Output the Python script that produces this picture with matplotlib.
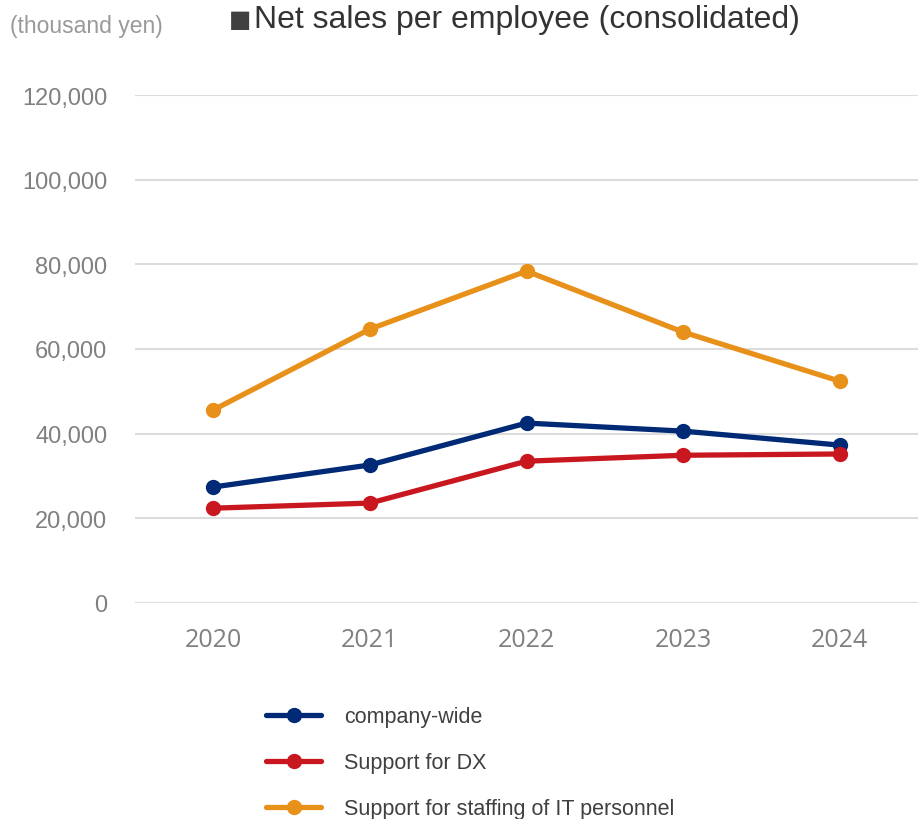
import numpy as np
import matplotlib
matplotlib.use("Agg")
import matplotlib.pyplot as plt

years = ["2020", "2021", "2022", "2023", "2024"]
company_wide = [27400, 32600, 42500, 40600, 37300]
support_dx = [22400, 23600, 33500, 34900, 35200]
support_it = [45600, 64700, 78400, 64000, 52400]

labels = ["company-wide", "Support for DX", "Support for staffing of IT personnel"]
colors = ["#002a75", "#c9171f", "#e8911a"]

plt.rcParams['font.family'] = ['Liberation Sans', 'DejaVu Sans']

fig = plt.figure(figsize=(9.18, 8.2), dpi=100)
ax = fig.add_axes([135 / 918, (820 - 604) / 820, 783 / 918, 508 / 820])

x = np.arange(len(years))
for vals, lab, col in zip([company_wide, support_dx, support_it], labels, colors):
    ax.plot(x, vals, color=col, lw=3.8, marker='o', ms=10, label=lab,
            solid_capstyle='round')

ax.set_xlim(-0.5, 4.5)
ax.set_ylim(0, 120000)
ax.set_yticks(np.arange(0, 120001, 20000))
ax.set_yticklabels([f"{v:,}" for v in range(0, 120001, 20000)],
                   fontsize=17, color="#808080")
ax.set_xticks(x)
ax.set_xticklabels(years, fontsize=18, color="#808080", family="Open Sans")
ax.tick_params(axis='both', length=0)
ax.tick_params(axis='y', pad=20)
ax.tick_params(axis='x', pad=17)
ax.grid(axis='y', color="#dcdcdc", lw=1.5)
ax.set_axisbelow(True)
for s in ax.spines.values():
    s.set_visible(False)

fig.text(10 / 918, 1 - 26 / 820, "(thousand yen)", fontsize=16.5, color="#999999",
         va='center', ha='left')
fig.text(229 / 918, 1 - 20 / 820, "■", fontsize=17, color="#404040",
         va='center', ha='left', family='DejaVu Sans')
fig.text(254 / 918, 1 - 20 / 820, "Net sales per employee (consolidated)",
         fontsize=23, color="#333333", va='center', ha='left')

fig.legend(loc='upper left', bbox_to_anchor=(247 / 918, 1 - 688 / 820),
           frameon=False, fontsize=15.5, handlelength=2.55, handletextpad=1.05,
           labelspacing=1.16, labelcolor="#404040")

fig.savefig("out.png", dpi=100)
